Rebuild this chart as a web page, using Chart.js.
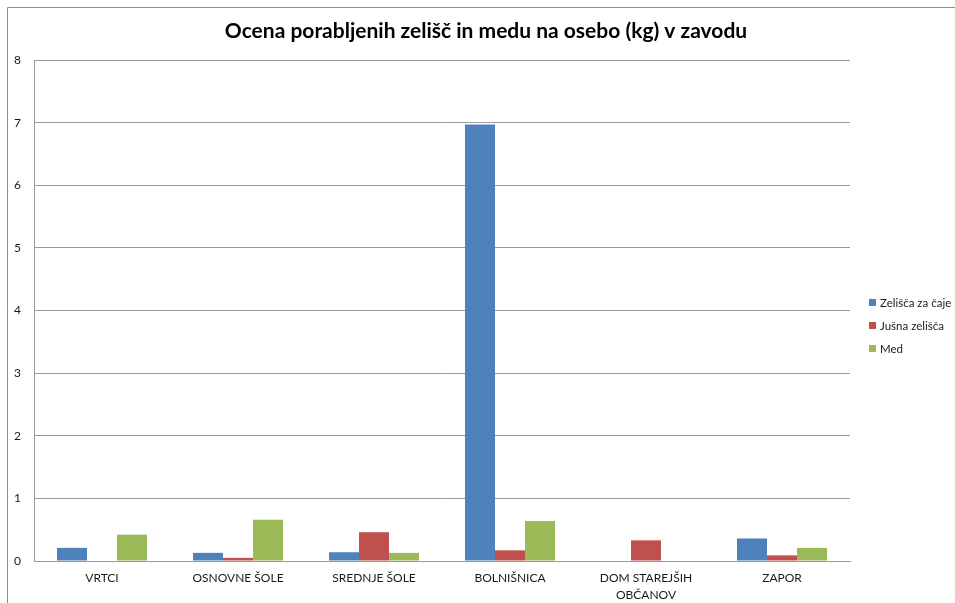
<!DOCTYPE html>
<html>
<head>
<meta charset="utf-8">
<script src="https://cdn.jsdelivr.net/npm/chart.js@4/dist/chart.umd.min.js"></script>
<style>
  html, body { margin: 0; padding: 0; background: #fff; overflow: hidden; }
  canvas { display: block; }
</style>
</head>
<body>
<canvas id="chart" width="955" height="603"></canvas>
<script>
const chartTitle = "Ocena porabljenih zelišč in medu na osebo (kg) v zavodu";
const categories = ["VRTCI", "OSNOVNE ŠOLE", "SREDNJE ŠOLE", "BOLNIŠNICA", ["DOM STAREJŠIH", "OBČANOV"], "ZAPOR"];
const seriesNames = ["Zelišča za čaje", "Jušna zelišča", "Med"];
const zeliscaZaCaje = [0.21, 0.13, 0.14, 6.97, 0, 0.36];
const jusnaZelisca = [0, 0.05, 0.46, 0.17, 0.33, 0.09];
const med = [0.42, 0.66, 0.13, 0.64, 0, 0.21];
const yTicks = [0, 1, 2, 3, 4, 5, 6, 7, 8];

const colors = ["#4f81bd", "#c0504d", "#9bbb59"];
const FONT = "Lato, 'Open Sans', sans-serif";

// frame, title and legend drawn by hand so they sit where we want them
const decorations = {
    id: "decorations",
    beforeDraw(chart) {
        const ctx = chart.ctx;
        ctx.save();
        ctx.fillStyle = "#fff";
        ctx.fillRect(0, 0, chart.width, chart.height);
        ctx.strokeStyle = "#8c8c8c";
        ctx.lineWidth = 1;
        ctx.beginPath();
        ctx.moveTo(7.5, chart.height);
        ctx.lineTo(7.5, 7.5);
        ctx.lineTo(chart.width, 7.5);
        ctx.stroke();
        ctx.restore();
    },
    afterDraw(chart) {
        const ctx = chart.ctx;
        ctx.save();
        ctx.fillStyle = "#000";
        ctx.font = "bold 21px " + FONT;
        ctx.textAlign = "center";
        ctx.textBaseline = "middle";
        ctx.fillText(chartTitle, 486, 31);

        ctx.font = "11.5px " + FONT;
        ctx.textAlign = "left";
        chart.data.datasets.forEach((ds, i) => {
            const y = 303 + i * 23;
            ctx.fillStyle = ds.backgroundColor;
            ctx.fillRect(869, y - 4, 7, 7);
            ctx.fillStyle = "#1a1a1a";
            ctx.fillText(ds.label, 880, y);
        });
        ctx.restore();
    }
};

new Chart(document.getElementById("chart"), {
    type: "bar",
    data: {
        labels: categories,
        datasets: [
            { label: seriesNames[0], data: zeliscaZaCaje, backgroundColor: colors[0] },
            { label: seriesNames[1], data: jusnaZelisca, backgroundColor: colors[1] },
            { label: seriesNames[2], data: med, backgroundColor: colors[2] }
        ]
    },
    options: {
        responsive: false,
        animation: false,
        devicePixelRatio: 1,
        layout: { padding: { top: 60, right: 105, left: 8, bottom: 0 } },
        datasets: {
            bar: { categoryPercentage: 0.662, barPercentage: 1, borderWidth: 0 }
        },
        plugins: {
            legend: { display: false },
            title: { display: false },
            tooltip: { enabled: false }
        },
        scales: {
            x: {
                grid: { display: false, drawTicks: false },
                border: { color: "#9a9a9a", width: 1 },
                ticks: {
                    color: "#1a1a1a",
                    font: { family: FONT, size: 12, lineHeight: 1.4 },
                    padding: 9,
                    maxRotation: 0,
                    autoSkip: false
                },
                afterFit(axis) { axis.height = 42; }
            },
            y: {
                min: 0,
                max: 8,
                afterBuildTicks(axis) { axis.ticks = yTicks.map(v => ({ value: v })); },
                grid: { color: "#9a9a9a", drawTicks: false },
                border: { color: "#9a9a9a", width: 1 },
                ticks: {
                    color: "#1a1a1a",
                    font: { family: FONT, size: 12 },
                    padding: 13
                },
                afterFit(axis) { axis.width = 26; }
            }
        }
    },
    plugins: [decorations]
});
</script>
</body>
</html>
